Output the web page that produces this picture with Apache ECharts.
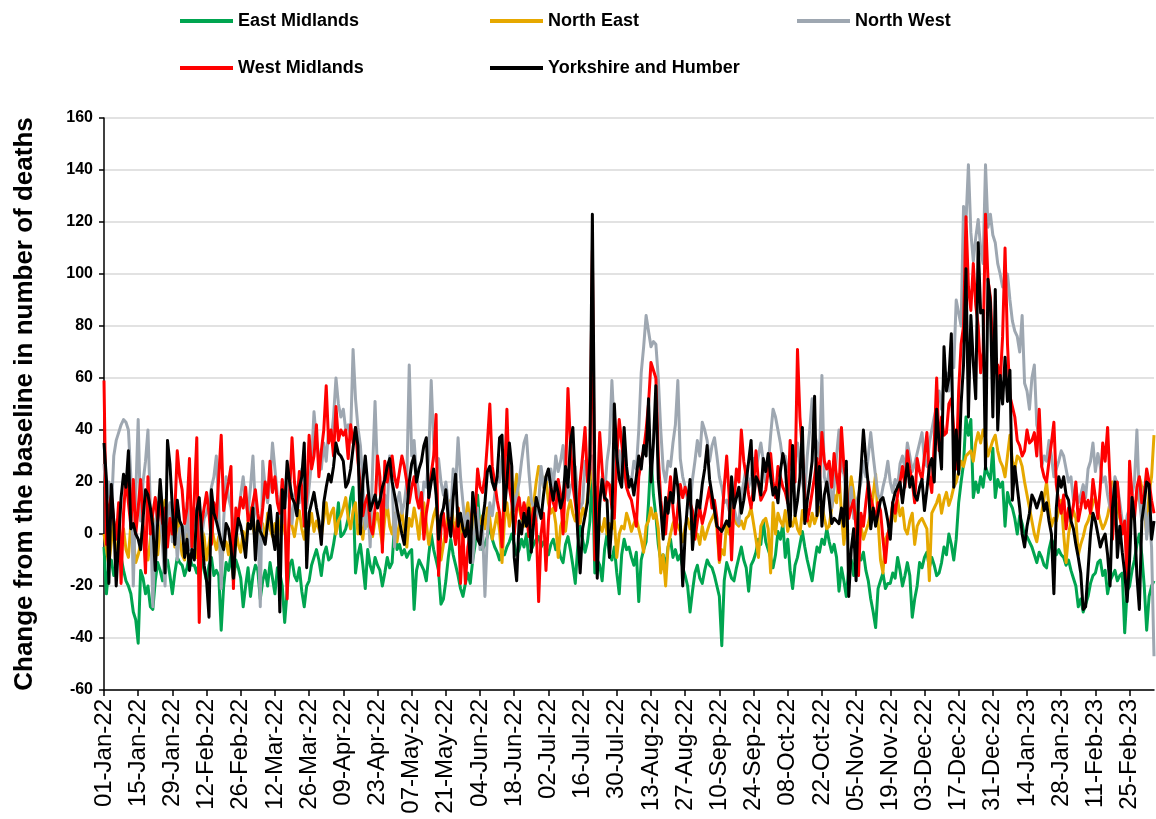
<!DOCTYPE html>
<html>
<head>
<meta charset="utf-8">
<title>Excess deaths by region</title>
<script src="https://cdn.jsdelivr.net/npm/echarts@6/dist/echarts.min.js"></script>
<style>
  html, body { margin: 0; padding: 0; background: #ffffff; }
  #chart { width: 1156px; height: 819px; }
</style>
</head>
<body>
<div id="chart"></div>
<script>
// Daily change from the baseline in number of deaths, starting 01-Jan-22 (one value per day).
const startDate = [2022, 0, 1];

const eastMidlands = [
  -5, -23, -12, -10, -16, -12, -5, -9, -14, -18, -20, -23, -30, -33,
  -42, -14, -17, -23, -20, -28, -29, -18, -11, -14, -18, -12, -10, -16,
  -23, -15, -9, -11, -12, -16, -13, -8, -12, -12, -15, -11, -10, -14,
  -18, -12, -9, -16, -14, -16, -37, -20, -11, -14, -8, -18, -10, -13,
  -17, -28, -20, -13, -24, -16, -12, -14, -25, -18, -14, -20, -11, -17,
  -23, -13, -15, -20, -34, -22, -12, -10, -16, -18, -13, -22, -28, -20,
  -18, -12, -9, -6, -10, -16, -8, -5, -10, -9, -4, 2, 12, -1,
  0, 2, 6, 14, 18, -15, -8, -4, -12, -21, -6, -12, -15, -9,
  -12, -14, -20, -15, -9, -13, -11, 4, -6, -4, -8, -6, -9, -7,
  -6, -29, -14, -10, -12, -14, -18, -8, 0, -6, -10, -14, -27, -25,
  -18, -9, -2, -8, -12, -16, -21, -24, -19, -15, -19, -10, -4, 15,
  2, -6, -4, -1, 3, -2, -5, -7, -10, -6, -8, -5, -3, 0,
  -4, -8, -6, -2, -5, 0, -10, -6, -4, -2, -1, -5, -3, -5,
  -8, -4, -2, -6, -5, -9, -11, -4, -1, -6, -12, -19, -5, 3,
  -2, -7, -3, 5, 25, -15, -10, -12, -18, -6, 0, -8, -10, -5,
  -15, -23, -8, -2, -6, -5, -9, -12, -7, -26, -10, -6, -3, 12,
  30, 15, 7, -4, -10, -8, -13, -5, -2, -9, -6, -10, -8, -13,
  -16, -20, -30, -22, -15, -12, -17, -19, -14, -10, -12, -13, -16, -20,
  -24, -43, -18, -11, -14, -17, -18, -13, -9, -5, -10, -13, -22, -12,
  -10, -7, -2, -4, 5, -3, -6, -9, -13, -8, 1, -2, 4, -9,
  -2, -14, -21, -12, -9, -4, 1, -5, -10, -14, -18, -11, -5, -7,
  -2, -4, 2, -3, -7, -4, -9, -22, -13, -18, -24, -13, -10, -16,
  -5, -9, -10, -7, -14, -18, -25, -30, -36, -21, -18, -15, -21, -19,
  -19, -15, -17, -9, -14, -20, -16, -11, -16, -32, -25, -20, -11, -13,
  -9, -7, -13, -9, -12, -16, -15, -11, -5, -8, 0, -4, -10, -2,
  12, 20, 27, 45, 38, 44, 14, 20, 16, 22, 18, 26, 23, 21,
  33, 14, 21, 18, 20, 3, 16, 12, 10, 6, 0, 7, 4, -1,
  -1, -3, -5, -8, -11, -7, -9, -12, -13, -6, -2, -4, -8, -6,
  -8, -9, -12, -10, -14, -17, -20, -28, -25, -30, -27, -24, -19, -16,
  -15, -11, -10, -16, -14, -23, -18, -16, -14, -18, -16, -15, -38, -22,
  -20, -14, -10, -4, 0, -8, -20, -37, -24, -20, -18
];

const northEast = [
  0, -6, -12, -3, 5, -8, -10, -3, 2, -6, -9, 4, -2, -11,
  -8, -4, 3, -5, -10, -2, 6, -4, -8, 2, 9, 13, 7, 0,
  3, -5, 8, -2, -8, -10, 0, -6, 4, -3, -9, -4, 2, -1,
  -10, -4, 3, -2, -6, -1, -11, -5, -3, -8, 0, -5, 2, -4,
  -7, 1, -3, 5, 10, 3, -2, 6, 0, 4, -3, 8, 2, -1,
  4, -2, 6, 10, 1, -4, 7, 3, -1, 5, 9, 2, -2, 4,
  3, 8, 1, 5, 2, -1, 6, 12, 4, 8, 10, 0, 5, 7,
  10, 14, 6, 2, 9, 12, 0, 4, -2, 7, 3, 10, -1, 5,
  8, 2, -4, 6, 11, 3, 0, 8, -3, 4, 9, 1, -5, 6,
  3, 10, 5, -2, 8, 12, 4, -4, 2, 7, 10, 0, -10, -4,
  2, 8, 13, 5, 1, 10, 4, -3, 6, 12, 3, 9, 0, 5,
  4, 7, 2, 10, 6, -2, 3, 8, 1, -11, 5, 12, 3, 9,
  15, 23, 10, 6, 3, 9, 14, 5, 12, 20, 26, 24, 18, 22,
  12, 8, 10, 4, -9, 3, 6, 1, 9, 13, 8, 5, 11, 4,
  10, 7, 14, 20, 28, 12, 8, 3, 1, 6, 0, 4, 2, 5,
  -9, 0, 3, 2, 8, 5, 1, 4, 6, 2, -2, -7, 3, 5,
  10, 6, 8, 2, -15, -8, -20, -5, 0, 4, 6, 3, 1, -3,
  3, 6, 2, 5, -1, 0, -4, 3, -2, 1, 4, 6, 8, 2,
  -11, -6, -8, 5, 0, 13, 7, 4, 3, 5, 2, 6, 7, 10,
  4, -2, -9, 3, 5, 6, 2, -15, 12, 0, 8, 5, 3, 9,
  1, 5, 3, 7, 2, 0, 9, 5, 6, 3, 8, 4, 7, 10,
  11, 6, 2, 3, 10, 15, 12, 23, 8, -4, 5, 12, 22, 16,
  6, 2, 3, -2, 1, 4, 8, 15, 23, 5, -10, -15, -2, 0,
  3, 12, 5, 13, 7, 10, 2, 0, 5, 8, -4, 3, 5, 6,
  4, 2, -18, 8, 10, 12, 15, 8, 13, 16, 11, 14, 18, 20,
  24, 28, 26, 30, 31, 32, 28, 35, 39, 35, 40, 37, 30, 33,
  36, 38, 32, 28, 26, 22, 30, 38, 28, 25, 30, 29, 26, 20,
  15, 10, 5, 0, -3, 3, 8, 14, 20, 10, 3, 6, 5, 9,
  13, 0, -11, 0, 5, 9, 6, -8, -4, -1, 3, 5, 8, 12,
  14, 9, 5, 2, 4, 7, 12, 20, 15, 10, 6, 3, 1, -1,
  4, 7, 11, 14, 22, 18, 10, 0, 16, 22, 38
];

const northWest = [
  27, 12, 20, 8, 30, 36, 39, 42, 44, 43, 40, 22, -20, 15,
  44, 5, 20, 28, 40, 10, -28, 3, 12, 10, -5, -20, 7, 12,
  -3, 8, -10, 2, 3, -5, 12, -6, 0, 5, 10, -2, -1, 6,
  8, 12, 18, 22, 30, 10, -21, 5, 22, 14, 10, 3, -2, 8,
  15, 22, 12, 8, 18, 30, 10, 5, -28, 28, 18, 12, 20, 35,
  25, 15, 8, 4, 10, 20, 12, 4, 15, 18, 12, 25, 20, 10,
  18, 28, 47, 36, 30, 25, 35, 28, 40, 36, 45, 60, 50, 45,
  48, 40, 42, 38, 71, 52, 41, 34, 20, 2, 12, -5, 25, 51,
  23, 18, 4, 15, 10, 30, 20, -5, 12, 16, 8, 12, 20, 65,
  30, 36, 22, 15, 9, 20, 18, 30, 59, 35, 28, 29, 20, 15,
  20, 12, 7, 25, 18, 37, 22, 12, 3, 8, 0, -11, 5, 10,
  -6, 3, -24, 0, 12, 7, 15, 22, 20, 30, 32, 18, 26, 20,
  9, 15, 20, 28, 35, 38, 24, 13, 10, 5, 12, 26, 18, 22,
  21, 25, 18, 30, 24, 28, 34, 22, 13, 18, 20, 26, 15, 10,
  12, 28, 22, 25, 30, 12, 18, 10, 22, 15, 28, 35, 59, 40,
  25, 32, 20, 26, 18, 22, 20, 28, 25, 40, 62, 72, 84, 78,
  72, 74, 73, 60, 40, 25, 20, 28, 26, 35, 42, 59, 29, 22,
  18, 13, 10, 21, 28, 36, 30, 43, 40, 36, 28, 34, 37, 30,
  22, 18, 12, 13, 9, 12, 10, 6, 4, 15, 20, 26, 18, 22,
  29, 25, 30, 35, 28, 20, 26, 38, 48, 45, 40, 35, 28, 30,
  24, 25, 34, 28, 35, 25, 20, 15, 30, 40, 52, 38, 35, 29,
  61, 22, 18, 25, 10, 18, 30, 40, 25, 23, 15, 10, 18, 6,
  12, 15, 20, 28, 22, 30, 39, 30, 22, 15, 13, 18, 22, 28,
  20, 16, 21, 18, 27, 30, 25, 35, 30, 24, 27, 31, 35, 39,
  28, 26, 35, 40, 45, 49, 55, 48, 60, 62, 55, 70, 64, 90,
  85, 80, 126, 120, 142, 116, 105, 114, 121, 110, 104, 142, 118, 123,
  115, 112, 104, 100, 95, 98, 100, 90, 82, 78, 76, 70, 84, 58,
  55, 48, 60, 65, 42, 38, 26, 30, 28, 36, 30, 22, 25, 28,
  32, 30, 25, 20, 22, 13, 18, 12, 15, 19, 14, 25, 28, 35,
  24, 31, 26, 20, 22, 15, 10, 13, 22, 19, 12, 5, 0, 7,
  10, 15, 20, 40, 13, 5, 18, -2, 8, -5, -47
];

const westMidlands = [
  59, -4, 10, 15, 5, -2, 12, -19, 8, 22, 12, 3, 21, 0,
  10, 21, 5, -15, 22, 0, 8, 14, 5, 12, 4, 10, -5, 6,
  0, 8, 32, 22, 17, 4, 10, 29, -5, 14, 37, -34, 4, 10,
  16, 8, -4, 12, 6, 22, 38, 9, 15, 20, 26, -21, 10, 6,
  14, 10, 18, 5, 7, 12, 17, 8, 2, 10, 20, 14, 28, 16,
  22, 12, 8, 21, 10, -25, 15, 37, 20, 12, 24, 18, 3, 15,
  38, 25, 30, 42, 22, 32, 40, 57, 35, 40, 30, 49, 36, 40,
  38, 40, 29, 42, 35, 41, 28, 18, 7, 12, 15, 3, 0, 10,
  30, 22, -7, 28, 20, 26, 30, 22, 18, 24, 30, 26, 20, 12,
  18, 22, 14, 10, 16, -2, 8, 14, 23, 30, 46, -16, 2, 8,
  -3, 4, 6, 2, -4, 10, -19, 0, -19, -5, 0, 12, 8, 25,
  18, 16, 22, 35, 50, 26, 20, 13, 8, -5, 20, 48, 18, 12,
  0, 10, 14, 6, 12, 8, -1, 5, 10, 4, -26, 0, 8, -14,
  5, 18, 12, 9, 21, 15, 0, 22, 56, 35, 19, 12, 3, 20,
  30, 41, 20, 25, 109, -10, 12, 39, 25, 13, 20, 19, 10, 6,
  30, 44, 35, 26, 18, 15, 13, 8, 3, 22, 28, 32, 40, 50,
  66, 63, 60, 30, 13, 5, 0, 12, 22, 10, 0, 10, 19, 14,
  18, 15, 12, 9, -2, 5, 10, 4, 8, 13, 18, 10, 13, 6,
  -10, 5, 18, 30, 15, -10, 12, 25, 20, 40, 28, 22, 15, 10,
  18, 32, 20, 13, 15, 17, 24, 31, 20, 14, 26, 22, 18, 16,
  12, 36, 25, 20, 71, 45, 32, 15, 5, 10, 16, 22, 29, 20,
  39, 28, 25, 28, 18, 31, 22, 16, 41, 26, 20, 6, 10, 13,
  2, -16, 8, 3, 12, 20, 14, 10, 6, 12, 9, -2, -11, 0,
  3, 12, 8, 15, 20, 26, 18, 32, 25, 20, 12, 29, 24, 21,
  30, 39, 22, 16, 35, 60, 32, 45, 38, 39, 50, 52, 40, 25,
  55, 73, 80, 122, 95, 86, 104, 88, 80, 62, 70, 123, 98, 91,
  70, 62, 65, 58, 76, 110, 73, 53, 49, 45, 36, 34, 30, 32,
  40, 35, 36, 39, 30, 48, 26, 22, 20, 28, 35, 43, 19, 12,
  8, 15, 2, 10, 6, 11, 20, 5, 10, 16, 10, 13, 8, 21,
  14, 6, 18, 35, 28, 41, 20, -2, 12, 20, 8, 0, 5, -19,
  28, 15, 6, 18, 22, 12, 15, 25, 20, 13, 8
];

const yorkshireHumber = [
  35, 21, -19, 19, 5, -20, -2, 14, 23, 18, 32, 2, 4, 0,
  -2, -6, 6, 17, 15, 10, 3, -14, 5, 21, 8, -15, 36, 27,
  10, -4, 13, 5, 3, -9, -2, -14, -6, -10, 9, 14, 1, -12,
  -18, -32, 17, 8, 5, 1, -3, -6, 4, 2, -5, -17, -2, 6,
  3, -2, -9, 4, 2, 10, -10, 5, 1, -1, -4, 4, 11, 0,
  -6, 8, -30, 17, 10, 28, 20, 14, 12, 7, 18, 22, 35, -13,
  8, 12, 16, 10, 5, -4, 12, 18, 23, 20, 26, 35, 31, 30,
  28, 18, 20, 25, 33, 41, 34, 0, 20, 30, 19, 9, 12, 15,
  10, 13, 18, 21, 26, 29, 20, 15, 10, 5, 0, -4, 8, 20,
  27, 30, 20, 25, 28, 34, 37, 14, 20, 25, 15, -2, 7, 10,
  17, 6, -1, 14, 23, 3, 8, 2, -1, 5, -11, 16, 8, -2,
  -4, 5, 12, 24, 26, 20, 17, 22, 37, 38, 9, 20, 35, 26,
  -9, -18, 5, 0, 8, 3, 10, -7, 5, 14, 10, 6, 15, 22,
  25, 18, 13, 20, 16, 10, 14, 26, 18, 35, 41, 20, 0, -15,
  2, 7, 12, 30, 123, 20, -17, 12, 21, 14, 13, -9, 5, 50,
  30, 21, 18, 41, 26, 18, 21, 15, 22, 30, 25, 34, 30, 52,
  20, 35, 57, 21, 10, -2, 14, 8, 16, 12, 25, 18, 5, -20,
  0, 12, 21, -6, 5, 13, 10, 19, 25, 34, 21, 15, 9, 3,
  2, 1, 3, 5, 3, 22, 10, 14, 18, 8, 13, 20, 28, 36,
  13, 22, 20, 15, 29, 24, 31, 22, 15, 18, 12, 24, 31, 26,
  12, 3, 34, 7, 13, 22, 41, 4, 13, 20, 28, 53, 7, 26,
  3, 15, 20, 13, 4, 6, 5, 4, 10, 3, 28, -24, -6, 2,
  -18, 13, 25, 40, 28, 19, 2, 10, 3, 8, 13, 14, 10, 5,
  -2, 12, 16, 18, 20, 12, 20, 27, 18, 22, 15, 13, 18, 21,
  9, 17, 26, 29, 20, 48, 35, 25, 72, 55, 60, 77, 18, 40,
  23, 50, 65, 102, 45, 84, 66, 52, 112, 85, 86, 25, 98, 89,
  45, 94, 40, 61, 50, 68, 51, 63, 13, 26, 18, 10, 0, -5,
  3, 8, 15, 13, 10, 13, 16, 9, 12, 5, 0, -23, 10, 22,
  18, 22, 15, 13, 5, 2, -4, -9, -15, -29, -28, -14, 0, 8,
  5, 0, -5, -2, 0, -8, -20, 10, 20, -9, 3, -7, -15, -26,
  -10, 14, 6, -16, -29, 5, 12, 20, 19, -2, 5
];

const seriesNames = ['East Midlands', 'North East', 'North West', 'West Midlands', 'Yorkshire and Humber'];
const seriesColors = ['#00a550', '#e6a800', '#9ea7b1', '#ff0000', '#000000'];
const seriesValues = [eastMidlands, northEast, northWest, westMidlands, yorkshireHumber];

// y-axis scale
const yMin = -60, yMax = 160, yStep = 20;
// a tick label every 14 days
const labelEvery = 14;

// Category labels such as 01-Jan-22
const monthNames = ['Jan', 'Feb', 'Mar', 'Apr', 'May', 'Jun', 'Jul', 'Aug', 'Sep', 'Oct', 'Nov', 'Dec'];
const dayCount = eastMidlands.length;
const dates = [];
for (let i = 0; i < dayCount; i++) {
  const d = new Date(Date.UTC(startDate[0], startDate[1], startDate[2] + i));
  const dd = String(d.getUTCDate()).padStart(2, '0');
  const yy = String(d.getUTCFullYear() % 100).padStart(2, '0');
  dates.push(dd + '-' + monthNames[d.getUTCMonth()] + '-' + yy);
}

const font = 'Arial, "Liberation Sans", Helvetica, sans-serif';

// Legend laid out as a two-row grid of fixed columns
const legendSlots = [[180, 12], [490, 12], [797, 12], [180, 59], [490, 59]];
const legends = seriesNames.map((name, i) => ({
  data: [name],
  left: legendSlots[i][0],
  top: legendSlots[i][1],
  padding: 0,
  icon: 'rect',
  itemWidth: 53,
  itemHeight: 4,
  selectedMode: false,
  textStyle: { fontFamily: font, fontSize: 18, fontWeight: 'bold', color: '#000' }
}));

const chart = echarts.init(document.getElementById('chart'), null, { renderer: 'canvas' });
chart.setOption({
  animation: false,
  backgroundColor: '#ffffff',
  legend: legends,
  grid: { left: 104, right: 2, top: 118, bottom: 129, containLabel: false },
  xAxis: {
    type: 'category',
    data: dates,
    boundaryGap: false,
    axisLine: { show: true, onZero: false, lineStyle: { color: '#000', width: 1.5 } },
    axisTick: { show: true, interval: labelEvery - 1, length: 6, lineStyle: { color: '#000', width: 1.5 } },
    axisLabel: {
      interval: labelEvery - 1,
      rotate: 90,
      margin: 9,
      fontFamily: font,
      fontSize: 24,
      color: '#000'
    },
    splitLine: { show: false }
  },
  yAxis: {
    type: 'value',
    min: yMin,
    max: yMax,
    interval: yStep,
    name: 'Change from the baseline in number of deaths',
    nameLocation: 'middle',
    nameRotate: 90,
    nameGap: 66,
    nameTextStyle: { fontFamily: font, fontSize: 26, fontWeight: 'bold', color: '#000' },
    axisLine: { show: true, lineStyle: { color: '#000', width: 1.5 } },
    axisTick: { show: true, length: 5, lineStyle: { color: '#000', width: 1.5 } },
    axisLabel: { fontFamily: font, fontSize: 16, fontWeight: 'bold', color: '#000', margin: 11 },
    splitLine: { show: true, lineStyle: { color: '#d9d9d9', width: 1.5 } }
  },
  series: seriesNames.map((name, i) => ({
    name: name,
    type: 'line',
    data: seriesValues[i],
    symbol: 'none',
    showSymbol: false,
    lineStyle: { width: 3, color: seriesColors[i], join: 'round' },
    itemStyle: { color: seriesColors[i] },
    emphasis: { disabled: true }
  }))
});
</script>
</body>
</html>
